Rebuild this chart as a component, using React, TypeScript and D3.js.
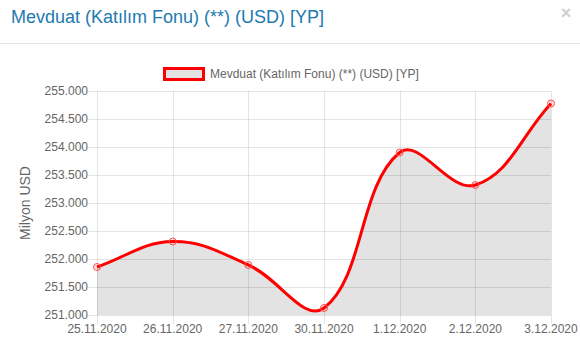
import React, { useEffect, useRef } from "react";
import * as d3 from "d3";

const title = "Mevduat (Katılım Fonu) (**) (USD) [YP]";
const dates = ["25.11.2020", "26.11.2020", "27.11.2020", "30.11.2020", "1.12.2020", "2.12.2020", "3.12.2020"];
const values = [251857, 252312, 251893, 251125, 253902, 253321, 254777];
const yTicks = [251000, 251500, 252000, 252500, 253000, 253500, 254000, 254500, 255000];

const fmt = (v: number) => d3.format(".3f")(v / 1000);

const App: React.FC = () => {
  const svgRef = useRef<SVGSVGElement | null>(null);

  useEffect(() => {
    const width = 580;
    const height = 353;
    const left = 97;
    const right = 551;
    const top = 91;
    const bottom = 315;
    const font = "'Liberation Sans', Arial, Helvetica, sans-serif";

    const svg = d3.select(svgRef.current);
    svg.selectAll("*").remove();
    svg.attr("width", width).attr("height", height).style("display", "block");

    // header
    svg.append("text")
      .attr("x", 11).attr("y", 23)
      .attr("font-family", font).attr("font-size", 18)
      .attr("fill", "#1d7ab0")
      .text(title);
    svg.append("text")
      .attr("x", 566).attr("y", 19)
      .attr("text-anchor", "middle")
      .attr("font-family", font).attr("font-size", 18).attr("font-weight", "bold")
      .attr("fill", "#cfcfcf")
      .text("×");
    svg.append("line")
      .attr("x1", 0).attr("x2", width).attr("y1", 43.5).attr("y2", 43.5)
      .attr("stroke", "#e5e5e5");

    const x = d3.scalePoint().domain(dates).range([left, right]);
    const y = d3.scaleLinear().domain([251000, 255000]).range([bottom, top]);

    // grid
    const grid = svg.append("g").attr("stroke", "rgba(0,0,0,0.1)").attr("stroke-width", 1);
    yTicks.forEach((t) => {
      grid.append("line")
        .attr("x1", left - 9).attr("x2", right)
        .attr("y1", Math.round(y(t)) + 0.5).attr("y2", Math.round(y(t)) + 0.5);
    });
    dates.forEach((d) => {
      const xx = Math.round(x(d) as number) + 0.5;
      grid.append("line")
        .attr("x1", xx).attr("x2", xx)
        .attr("y1", top).attr("y2", bottom + 9);
    });

    // chart.js style spline
    const pts = values.map((v, i) => ({ x: x(dates[i]) as number, y: y(v) }));
    const tension = 0.4;
    const cps = pts.map((p, i) => {
      const prev = pts[i - 1] || p;
      const next = pts[i + 1] || p;
      const d01 = Math.hypot(p.x - prev.x, p.y - prev.y);
      const d12 = Math.hypot(next.x - p.x, next.y - p.y);
      let s01 = d01 / (d01 + d12);
      let s12 = d12 / (d01 + d12);
      if (isNaN(s01)) s01 = 0;
      if (isNaN(s12)) s12 = 0;
      const fa = tension * s01;
      const fb = tension * s12;
      return {
        px: p.x - fa * (next.x - prev.x),
        py: p.y - fa * (next.y - prev.y),
        nx: p.x + fb * (next.x - prev.x),
        ny: p.y + fb * (next.y - prev.y),
      };
    });
    const linePath = d3.path();
    linePath.moveTo(pts[0].x, pts[0].y);
    for (let i = 1; i < pts.length; i++) {
      linePath.bezierCurveTo(cps[i - 1].nx, cps[i - 1].ny, cps[i].px, cps[i].py, pts[i].x, pts[i].y);
    }
    const lineD = linePath.toString();
    const areaD = lineD + `L${pts[pts.length - 1].x},${bottom}L${pts[0].x},${bottom}Z`;

    svg.append("path").attr("d", areaD).attr("fill", "rgba(0,0,0,0.11)");
    svg.append("path").attr("d", lineD)
      .attr("fill", "none").attr("stroke", "#ff0000").attr("stroke-width", 3);

    svg.append("g").selectAll("circle").data(pts).enter().append("circle")
      .attr("cx", (d) => d.x).attr("cy", (d) => d.y).attr("r", 3.5)
      .attr("fill", "rgba(255,0,0,0.1)").attr("stroke", "#ff5050").attr("stroke-width", 1);

    // y tick labels
    svg.append("g").selectAll("text").data(yTicks).enter().append("text")
      .attr("x", left - 9).attr("y", (d) => y(d) + 4)
      .attr("text-anchor", "end")
      .attr("font-family", font).attr("font-size", 12).attr("fill", "#666")
      .text((d) => fmt(d));

    // x tick labels
    svg.append("g").selectAll("text").data(dates).enter().append("text")
      .attr("x", (d) => x(d) as number).attr("y", 333)
      .attr("text-anchor", "middle")
      .attr("font-family", font).attr("font-size", 12).attr("fill", "#666")
      .text((d) => d);

    // y axis label
    svg.append("text")
      .attr("transform", `translate(30,${(top + bottom) / 2}) rotate(-90)`)
      .attr("text-anchor", "middle")
      .attr("font-family", font).attr("font-size", 14).attr("fill", "#666")
      .text("Milyon USD");

    // legend
    svg.append("rect")
      .attr("x", 164.5).attr("y", 68.5).attr("width", 39).attr("height", 11)
      .attr("fill", "#e3e3e3").attr("stroke", "#ff0000").attr("stroke-width", 3);
    svg.append("text")
      .attr("x", 210).attr("y", 78)
      .attr("font-family", font).attr("font-size", 12).attr("fill", "#666")
      .text(title);
  }, []);

  return <svg ref={svgRef} style={{ position: "absolute", left: 0, top: 0 }}></svg>;
};

export default App;
